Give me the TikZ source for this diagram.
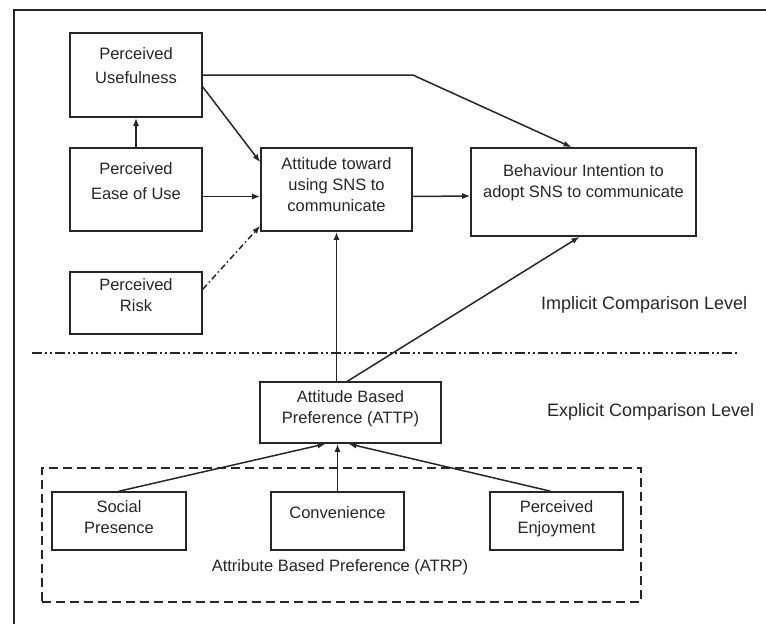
\documentclass[tikz,border=0pt]{standalone}
\usepackage{fontspec}
\setmainfont{Liberation Sans}
\usetikzlibrary{arrows.meta,fit}
\tikzset{>={Latex[length=8pt,width=6pt]}}
\tikzstyle{block} = [draw, rectangle, line width=1.6pt, inner xsep=0pt, inner ysep=0pt, font=\fontsize{16.5}{21}\selectfont]
\tikzstyle{group} = [draw, rectangle, line width=1.6pt, dash pattern=on 9pt off 5pt]
\tikzstyle{level} = [anchor=base west, font=\fontsize{18}{22}\selectfont]
\newcommand{\boxlines}[1]{\begin{tabular}[t]{@{}c@{}}#1\end{tabular}}

\begin{document}
\begin{tikzpicture}[x=1pt,y=-1pt,line width=1.5pt,color=black!85]
\useasboundingbox (0,0) rectangle (766,624);

% Frame
\draw[line width=1.3pt] (766,10) -| (14,624);

% Diagram nodes
\node[block, minimum width=132pt, text height=26pt, text depth=58pt] (pu) at (136,75) {\boxlines{Perceived\\[3pt]Usefulness}};
\node[block, minimum width=132pt, text height=26pt, text depth=57pt] (peu) at (136,189.5) {\boxlines{Perceived\\[4pt]Ease of Use}};
\node[block, minimum width=132pt, text height=18pt, text depth=44pt] (pr) at (136,303) {\boxlines{Perceived\\Risk}};
\node[block, minimum width=151pt, text height=21pt, text depth=62pt] (att) at (336.5,189.5) {\boxlines{Attitude toward\\using SNS to\\communicate}};
\node[block, minimum width=225pt, text height=28pt, text depth=60pt] (bi) at (583.5,192) {\boxlines{Behaviour Intention to\\adopt SNS to communicate}};

\node[block, minimum width=181pt, text height=20pt, text depth=41pt] (attp) at (350.5,412.5) {\boxlines{Attitude Based\\Preference (ATTP)}};

\node[block, minimum width=134pt, text height=20pt, text depth=38pt] (sp) at (119,521) {\boxlines{Social\\Presence}};
\node[block, minimum width=133pt, text height=26pt, text depth=32pt] (conv) at (337.5,521) {\boxlines{Convenience}};
\node[block, minimum width=133pt, text height=20pt, text depth=38pt] (pe) at (556.5,521) {\boxlines{Perceived\\Enjoyment}};

% Levels
\node[level] (implicit) at (537,309) {Implicit Comparison Level};
\node[level] (explicit) at (543,416) {Explicit Comparison Level};
\draw[dash pattern=on 10pt off 3pt on 2pt off 3pt on 2pt off 3pt] (32,353) -- (739,353);

% Draw connectors
\draw[->] (pu.east) -- (pu.east -| att.east) -- ([xshift=-12pt]bi.north);
\draw[->] ([yshift=-12pt]pu.east) -- ([yshift=-15pt]att.north west);
\draw[->] (peu.north) -- (pu.south);
\draw[->] ([yshift=-7pt]peu.east) -- ([yshift=-7pt]att.west);
\draw[->, dash pattern=on 6pt off 3pt on 1.5pt off 3pt] ([yshift=-18pt]pr.north east) -- ([yshift=6pt]att.south west);
\draw[->] ([yshift=-7pt]att.east) -- ([yshift=-4pt]bi.west);
\draw[->] (att.south |- attp.north) -- (att.south);
\draw[->] ([xshift=-3pt]attp.north) -- ([xshift=-4pt]bi.south);
\draw[->] (sp.north) -- ([xshift=-25pt]attp.south);
\draw[->] (conv.north) -- (conv.north |- attp.south);
\draw[->] ([xshift=-6pt]pe.north) -- ([xshift=-2pt]attp.south);

% Group annotations
\node[group, minimum width=599pt, minimum height=134pt] (atrp) at (341.5,535) {};
\node[font=\fontsize{16.5}{21}\selectfont, anchor=base] (atrplabel) at (340,571) {Attribute Based Preference (ATRP)};

\end{tikzpicture}
\end{document}
